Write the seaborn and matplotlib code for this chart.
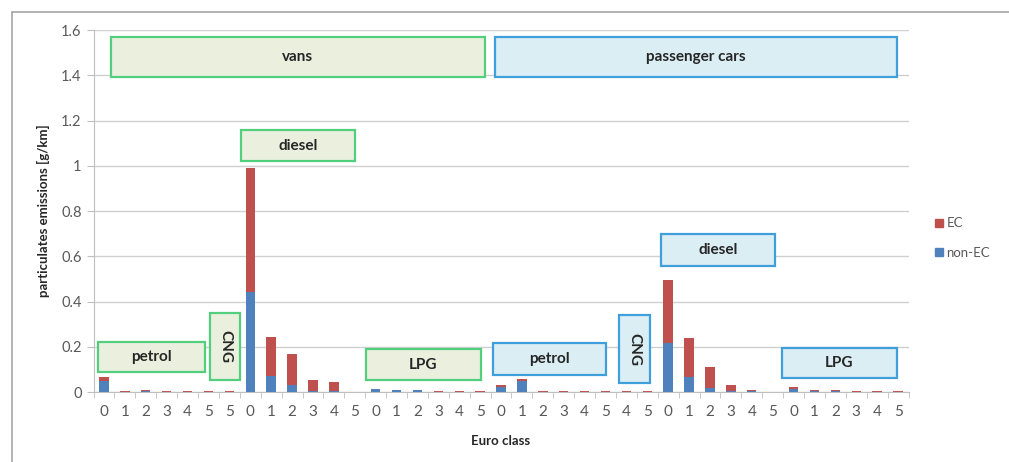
import matplotlib
matplotlib.use("Agg")
import matplotlib.pyplot as plt
import pandas as pd
import seaborn as sns
from matplotlib.lines import Line2D
from matplotlib.patches import Rectangle

# Euro class labels along the x axis (vans, then passenger cars)
vans_classes = ["0", "1", "2", "3", "4", "5", "5", "0", "1", "2", "3", "4", "5",
                "0", "1", "2", "3", "4", "5"]
cars_classes = ["0", "1", "2", "3", "4", "5", "4", "5", "0", "1", "2", "3", "4", "5",
                "0", "1", "2", "3", "4", "5"]

# total (EC + non-EC) and non-EC emissions in g/km
vans_total = [0.068, 0.003, 0.008, 0.004, 0.004, 0.004, 0.004, 0.99, 0.244, 0.167,
              0.053, 0.043, 0.002, 0.015, 0.009, 0.009, 0.004, 0.004, 0.004]
vans_non_ec = [0.049, 0.0, 0.006, 0.001, 0.001, 0.001, 0.001, 0.443, 0.071, 0.031,
               0.006, 0.005, 0.0, 0.012, 0.007, 0.007, 0.001, 0.001, 0.001]
cars_total = [0.03, 0.059, 0.003, 0.003, 0.003, 0.003, 0.003, 0.003, 0.495, 0.237,
              0.109, 0.03, 0.009, 0.002, 0.021, 0.007, 0.007, 0.004, 0.004, 0.004]
cars_non_ec = [0.021, 0.047, 0.0, 0.0, 0.0, 0.0, 0.0, 0.0, 0.218, 0.068,
               0.016, 0.003, 0.003, 0.0, 0.015, 0.006, 0.006, 0.001, 0.001, 0.001]

labels = vans_classes + cars_classes
df = pd.DataFrame({
    "key": [f"c{i}" for i in range(len(labels))],
    "total": vans_total + cars_total,
    "non_ec": vans_non_ec + cars_non_ec,
})

# label boxes: (text, x0, x1, y0, y1, colour scheme, rotated)
boxes = [
    ("vans", 0.33, 18.23, 1.392, 1.569, "g", False),
    ("passenger cars", 18.71, 37.94, 1.392, 1.569, "b", False),
    ("diesel", 6.56, 12.01, 1.021, 1.158, "g", False),
    ("petrol", -0.29, 4.83, 0.088, 0.222, "g", False),
    ("CNG", 5.07, 6.51, 0.053, 0.349, "g", True),
    ("LPG", 12.54, 18.04, 0.053, 0.19, "g", False),
    ("petrol", 18.61, 24.02, 0.075, 0.217, "b", False),
    ("CNG", 24.64, 26.12, 0.04, 0.34, "b", True),
    ("diesel", 26.65, 32.1, 0.557, 0.698, "b", False),
    ("LPG", 32.44, 37.94, 0.062, 0.194, "b", False),
]
schemes = {"g": ("#ebf0de", "#52cf7c"), "b": ("#daeef4", "#3f9fdc")}

RED = "#c0504d"
BLUE = "#4f81bd"
GREY = "#595959"

sns.set_style("white")
plt.rcParams["font.family"] = ["Lato", "DejaVu Sans"]

fig = plt.figure(figsize=(10.09, 4.62), dpi=100)
ax = fig.add_axes([0.0927, 0.1515, 0.8077, 0.7835])

bar_kw = dict(saturation=1, width=0.45, order=df["key"], linewidth=0, edgecolor="none")
sns.barplot(data=df, x="key", y="total", color=RED, ax=ax, zorder=2, **bar_kw)
sns.barplot(data=df, x="key", y="non_ec", color=BLUE, ax=ax, zorder=3, **bar_kw)

ax.set_xlim(-0.5, len(labels) - 0.5)
ax.set_ylim(0, 1.6)
ax.set_yticks([0, 0.2, 0.4, 0.6, 0.8, 1.0, 1.2, 1.4, 1.6])
ax.set_yticklabels(["0", "0.2", "0.4", "0.6", "0.8", "1", "1.2", "1.4", "1.6"])
ax.set_xticks(range(len(labels)))
ax.set_xticklabels(labels)
ax.tick_params(axis="x", length=0, pad=9, labelsize=11, labelcolor=GREY)
ax.tick_params(axis="y", length=5, color="#bfbfbf", labelsize=10.5, labelcolor=GREY,
               left=True)
# minor ticks between categories
ax.set_xticks([i + 0.5 for i in range(-1, len(labels))], minor=True)
ax.tick_params(axis="x", which="minor", length=4, color="#bfbfbf", bottom=True)

ax.yaxis.grid(True, color="#d0d0d0", linewidth=1)
ax.set_axisbelow(True)
for side in ["top", "right"]:
    ax.spines[side].set_visible(False)
for side in ["left", "bottom"]:
    ax.spines[side].set_color("#bfbfbf")

ax.set_xlabel("Euro class", fontsize=9.5, fontweight="bold", color="#262626",
              labelpad=12)
ax.set_ylabel("particulates emissions [g/km]", fontsize=9.5, fontweight="bold",
              color="#262626", labelpad=8)

for text, x0, x1, y0, y1, sch, rot in boxes:
    face, edge = schemes[sch]
    ax.add_patch(Rectangle((x0, y0), x1 - x0, y1 - y0, facecolor=face, edgecolor=edge,
                           linewidth=1.6, zorder=4, clip_on=False))
    ax.text((x0 + x1) / 2, (y0 + y1) / 2, text, ha="center", va="center",
            rotation=270 if rot else 0, fontsize=11, fontweight="bold",
            color="#262626", zorder=5)

handles = [Line2D([], [], marker="s", linestyle="", color=RED, markersize=6),
           Line2D([], [], marker="s", linestyle="", color=BLUE, markersize=6)]
fig.legend(handles, ["EC", "non-EC"], loc="center left", bbox_to_anchor=(0.912, 0.485),
           frameon=False, fontsize=9.5, labelcolor=GREY, handletextpad=0.1,
           labelspacing=1.3, handlelength=1.0)

# frame lines at top and left of the picture
fig.add_artist(Line2D([0.012, 1.0], [0.974, 0.974], color="#a6a6a6", linewidth=1.2,
                      transform=fig.transFigure))
fig.add_artist(Line2D([0.012, 0.012], [0.0, 0.974], color="#a6a6a6", linewidth=1.2,
                      transform=fig.transFigure))

fig.savefig("out.png", dpi=100)
